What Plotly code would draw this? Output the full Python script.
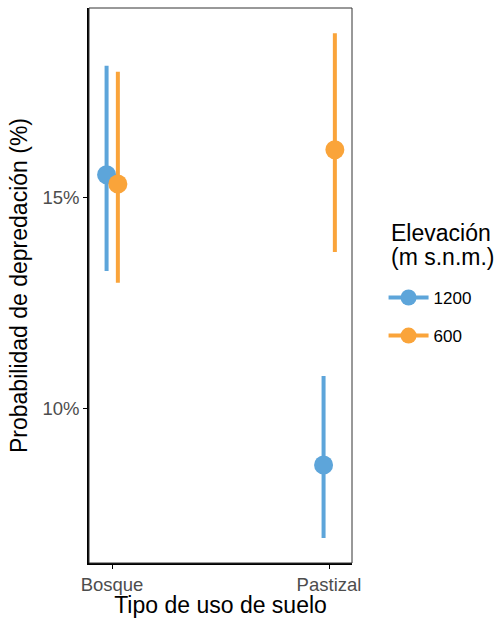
import plotly.graph_objects as go

categories = ["Bosque", "Pastizal"]
series_names = ["1200", "600"]
estimates = {"1200": [15.55, 8.67], "600": [15.33, 16.14]}
upper = {"1200": [18.13, 10.78], "600": [17.99, 18.90]}
lower = {"1200": [13.27, 6.94], "600": [12.99, 13.72]}
colors = {"1200": "#5DA5DA", "600": "#FAA43A"}
dodge = {"1200": -0.025, "600": 0.027}
y_ticks = [10, 15]
y_tick_labels = ["10%", "15%"]
legend_title_lines = ["Elevación", "(m s.n.m.)"]

fig = go.Figure()
for s in series_names:
    xs, ys, ep, em = [], [], [], []
    for i, c in enumerate(categories):
        if i > 0:
            xs.append(None); ys.append(None); ep.append(None); em.append(None)
        xs.append(i + 1 + dodge[s])
        ys.append(estimates[s][i])
        ep.append(upper[s][i] - estimates[s][i])
        em.append(estimates[s][i] - lower[s][i])
    fig.add_trace(go.Scatter(
        x=xs, y=ys, name=s, mode="lines+markers", connectgaps=False,
        legendgroup=s,
        line=dict(color=colors[s], width=4),
        marker=dict(color=colors[s], size=19),
        error_y=dict(type="data", symmetric=False, array=ep, arrayminus=em,
                     color=colors[s], thickness=4, width=0),
    ))

annotations = []
for k, (txt, yp) in enumerate(zip(legend_title_lines, [0.5946, 0.5514])):
    annotations.append(dict(text=txt, xref="paper", yref="paper", x=1.142, y=yp,
                            xanchor="left", yanchor="middle", showarrow=False,
                            font=dict(size=23, color="black")))

fig.update_layout(
    width=497, height=618,
    margin=dict(l=89, r=145, t=8, b=55),
    plot_bgcolor="white", paper_bgcolor="white",
    font=dict(family="Liberation Sans, Arial, sans-serif", color="black"),
    showlegend=True,
    legend=dict(
        font=dict(size=17, color="black"),
        x=1.12, xanchor="left", y=0.51, yanchor="top",
        itemwidth=40, tracegroupgap=13,
    ),
    annotations=annotations,
    shapes=[dict(type="rect", xref="paper", yref="paper", x0=0, x1=1, y0=0, y1=1,
                 line=dict(color="#333333", width=1), layer="above")],
)
fig.update_xaxes(
    range=[0.894, 2.106], tickvals=[1, 2], ticktext=categories,
    showgrid=False, zeroline=False, showline=True, linecolor="black", linewidth=1.5,
    ticks="outside", ticklen=4, tickcolor="black",
    tickfont=dict(size=18.5, color="#4D4D4D"),
    title=dict(text="Tipo de uso de suelo", font=dict(size=23, color="black"), standoff=0),
)
fig.update_yaxes(
    range=[6.35, 19.5], tickvals=y_ticks, ticktext=y_tick_labels,
    showgrid=False, zeroline=False, showline=True, linecolor="black", linewidth=1.5,
    ticks="outside", ticklen=4, tickcolor="black",
    tickfont=dict(size=18.5, color="#4D4D4D"),
    title=dict(text="Probabilidad de depredación (%)", font=dict(size=23, color="black"), standoff=8),
)
fig.write_html("out.html")
